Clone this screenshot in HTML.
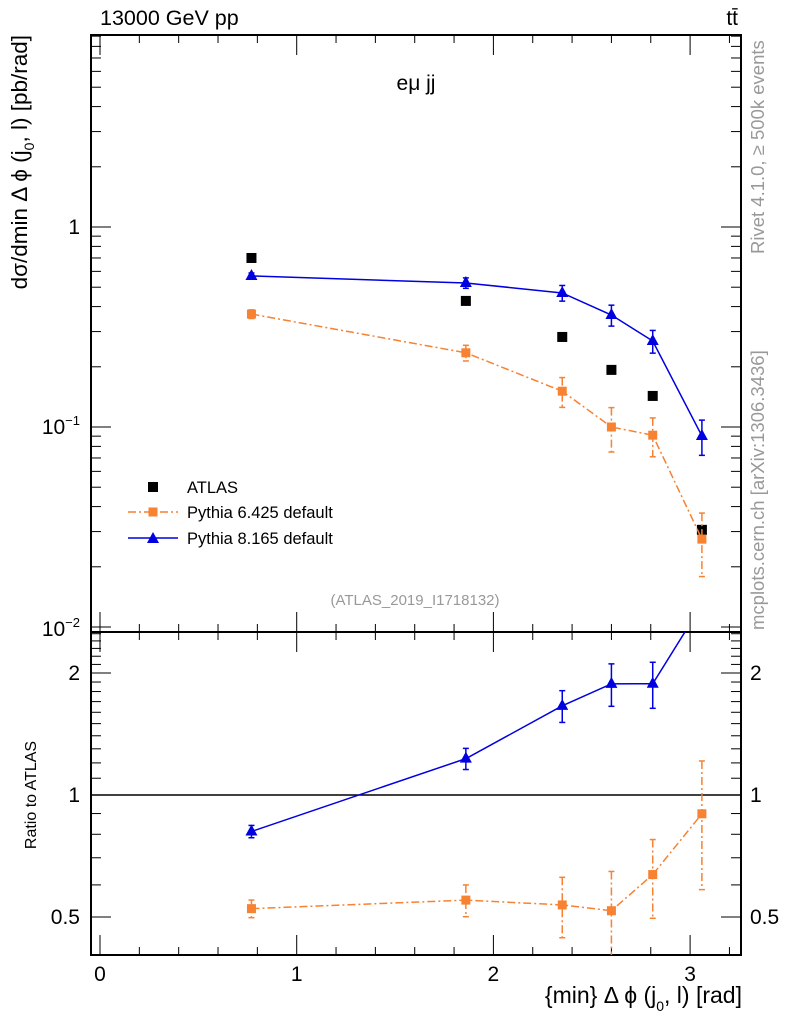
<!DOCTYPE html>
<html><head><meta charset="utf-8"><style>
body{margin:0;background:#fff}
svg text{font-family:"Liberation Sans",sans-serif}
</style></head><body>
<svg id="c" width="786" height="1024" xmlns="http://www.w3.org/2000/svg">
<g id="g"></g>
</svg>
<script>
const xs=[0.77,1.86,2.35,2.6,2.81,3.06];
const atlas=[0.70,0.427,0.282,0.193,0.143,0.0306];
const py8=[0.569,0.525,0.468,0.363,0.269,0.0902];
const py6=[0.367,0.235,0.151,0.100,0.091,0.0275];
const py8RelErr=[0.035,0.06,0.09,0.12,0.13,0.2];
const py6RelErr=[0.05,0.09,0.17,0.25,0.22,0.35];
const xTicks=[0,1,2,3];
const ratioTicks=[0.5,1,2];

const NS="http://www.w3.org/2000/svg";
const g=document.getElementById('g');
const L=91,R=741,T=35,MB=632,RB=955;
const X=v=>100+v*196.7;
const Y=v=>227-200*Math.log10(v);
const YR=v=>795-122*Math.log2(v);
function el(t,a,p){const e=document.createElementNS(NS,t);for(const k in a)e.setAttribute(k,a[k]);(p||g).appendChild(e);return e;}
function line(x1,y1,x2,y2,s,w,d){return el('line',{x1,y1,x2,y2,stroke:s||'#000','stroke-width':w||1,'stroke-dasharray':d||'none'});}
function txt(x,y,s,size,anchor,fill){const e=el('text',{x,y,'font-size':size,'text-anchor':anchor||'start',fill:fill||'#000'});e.textContent=s;return e;}

let f=el('rect',{x:L,y:T,width:R-L,height:MB-T,fill:'none',stroke:'#000','stroke-width':2});

f=el('rect',{x:L,y:MB,width:R-L,height:RB-MB,fill:'none',stroke:'#000','stroke-width':2});


for(let v=0;v<=3.25;v+=0.2){const major=Math.abs(v-Math.round(v))<1e-6;const px=X(v);const len=major?20:8;
 for(const [top,bot] of [[T,MB],[MB,RB]]){line(px,bot,px,bot-len);line(px,top,px,top+len);} }
for(const v of xTicks){const t=txt(X(v),981,String(v),21,'middle');}

for(let d=-2;d<=0;d++){for(let m=1;m<=9;m++){const v=m*Math.pow(10,d);const py=Y(v);if(py<T||py>MB)continue;const len=m==1?20:10;
 line(L,py,L+len,py);line(R,py,R-len,py);}}
let t=txt(80,234,'1',21,'end');
t=el('text',{x:80,y:434,'font-size':21,'text-anchor':'end'});t.innerHTML='10<tspan font-size="13" dy="-9">−1</tspan>';

t=el('text',{x:80,y:636,'font-size':21,'text-anchor':'end'});t.innerHTML='10<tspan font-size="13" dy="-9">−2</tspan>';


for(let v=0.4;v<=2.55;v+=0.1){const py=YR(v);if(py<MB||py>RB)continue;const maj=ratioTicks.some(r=>Math.abs(r-v)<1e-6);const len=maj?20:10;line(L,py,L+len,py);line(R,py,R-len,py);}
for(const v of ratioTicks){const py=YR(v)+7;t=txt(80,py,String(v),21,'end');
 t=txt(750,py,String(v),21,'start');}
line(L,YR(1),R,YR(1),'#000',1.5);

t=txt(100,25,'13000 GeV pp',21.5);
t=txt(738,25,'tt̄',21,'end');
t=txt(416,90,'eμ jj',21,'middle');
t=txt(415,605,'(ATLAS_2019_I1718132)',15,'middle','#999');
t=el('text',{x:742,y:1003,'font-size':23,'text-anchor':'end'});t.innerHTML='{min} Δ ϕ (j<tspan font-size="14" dy="8">0</tspan><tspan dy="-8">, l) [rad]</tspan>';

t=el('text',{x:0,y:0,'font-size':22.5,'text-anchor':'end',transform:'translate(27,35) rotate(-90)'});t.innerHTML='dσ/dmin Δ ϕ (j<tspan font-size="14" dy="7">0</tspan><tspan dy="-7">, l) [pb/rad]</tspan>';

t=el('text',{x:0,y:0,'font-size':16,'text-anchor':'middle',transform:'translate(36,795) rotate(-90)'});t.textContent='Ratio to ATLAS';

t=el('text',{x:0,y:0,'font-size':18.5,'text-anchor':'start',fill:'#999',transform:'translate(764,254) rotate(-90)'});t.textContent='Rivet 4.1.0, ≥ 500k events';

t=el('text',{x:0,y:0,'font-size':18.5,'text-anchor':'start',fill:'#999',transform:'translate(764,630) rotate(-90)'});t.textContent='mcplots.cern.ch [arXiv:1306.3436]';


const defs=el('defs',{});
const cp1=el('clipPath',{id:'cm'},defs);el('rect',{x:L,y:T,width:R-L,height:MB-T},cp1);
const cp2=el('clipPath',{id:'cr'},defs);el('rect',{x:L,y:MB,width:R-L,height:RB-MB},cp2);
const gm=el('g',{'clip-path':'url(#cm)'});const gr=el('g',{'clip-path':'url(#cr)'});

function tri(p,x,y,c){return el('polygon',{points:`${x},${y-7} ${x-6},${y+4} ${x+6},${y+4}`,fill:c},p);}
function sq(p,x,y,s,c){return el('rect',{x:x-s/2,y:y-s/2,width:s,height:s,fill:c},p);}
function series(p,vals,err,fy,color,dash,marker,name){
 const pts=xs.map((x,i)=>X(x)+','+fy(vals[i])).join(' ');
 const pl=el('polyline',{points:pts,fill:'none',stroke:color,'stroke-width':1.5,'stroke-dasharray':dash},p);
 
 xs.forEach((x,i)=>{const px=X(x);const v=vals[i];const yc=fy(v);if(yc<MB-5&&p===gr)return;const y1=fy(v*(1+err[i])),y2=fy(v*(1-err[i]));
  el('line',{x1:px,y1,x2:px,y2,stroke:color,'stroke-width':1.5,'stroke-dasharray':dash},p);
  el('line',{x1:px-3,y1,x2:px+3,y2:y1,stroke:color,'stroke-width':1.5},p);el('line',{x1:px-3,y1:y2,x2:px+3,y2,stroke:color,'stroke-width':1.5},p);
  const m=marker=='tri'?tri(p,px,yc,color):sq(p,px,yc,9,color);
  });
}
xs.forEach((x,i)=>{const m=sq(gm,X(x),Y(atlas[i]),10,'#000');});
series(gm,py6,py6RelErr,Y,'#f78232','8,3,2,3','sq','pythia6');
series(gm,py8,py8RelErr,Y,'#0000e0','none','tri','pythia8');
const r6=py6.map((v,i)=>v/atlas[i]),r8=py8.map((v,i)=>v/atlas[i]);
series(gr,r6,py6RelErr,YR,'#f78232','8,3,2,3','sq','ratio-pythia6');
series(gr,r8,py8RelErr,YR,'#0000e0','none','tri','ratio-pythia8');

let lg=el('g',{});
let m=sq(lg,153,487,10,'#000');
t=txt(187,493,'ATLAS',16.5);lg.appendChild(t);
el('line',{x1:128,y1:512,x2:178,y2:512,stroke:'#f78232','stroke-width':1.5,'stroke-dasharray':'8,3,2,3'},lg);sq(lg,153,512,9,'#f78232');
t=txt(187,518,'Pythia 6.425 default',16.5);lg.appendChild(t);
el('line',{x1:128,y1:538,x2:178,y2:538,stroke:'#0000e0','stroke-width':1.5},lg);tri(lg,153,539,'#0000e0');
t=txt(187,544,'Pythia 8.165 default',16.5);lg.appendChild(t);
</script>
</body></html>
